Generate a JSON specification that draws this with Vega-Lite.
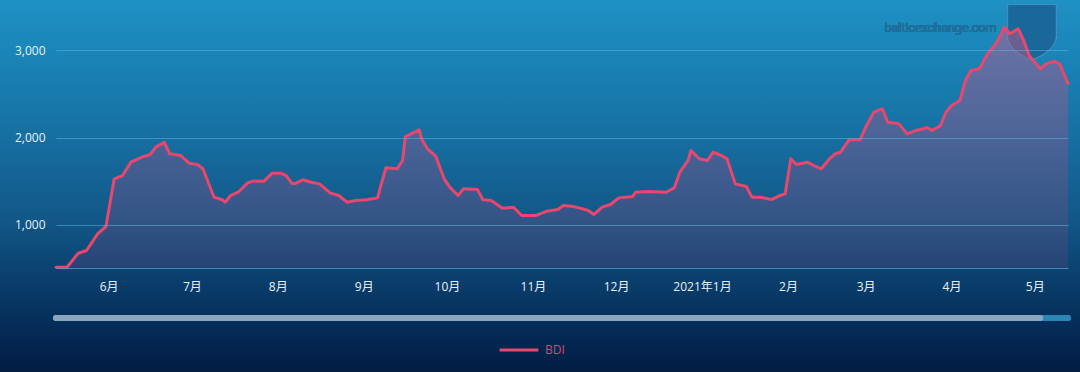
{
  "$schema": "https://vega.github.io/schema/vega-lite/v6.json",
  "width": 1012,
  "height": 261,
  "autosize": {"type": "none"},
  "padding": {"left": 56, "top": 7, "right": 12, "bottom": 104},
  "background": "#04214a",
  "config": {"view": {"stroke": null}},
  "data": {"values": [
    {"date": "2020-05-13", "bdi": 508}, {"date": "2020-05-17", "bdi": 510}, {"date": "2020-05-21", "bdi": 670},
    {"date": "2020-05-24", "bdi": 701}, {"date": "2020-05-28", "bdi": 893}, {"date": "2020-05-31", "bdi": 977},
    {"date": "2020-06-03", "bdi": 1525}, {"date": "2020-06-06", "bdi": 1563}, {"date": "2020-06-09", "bdi": 1716},
    {"date": "2020-06-13", "bdi": 1774}, {"date": "2020-06-16", "bdi": 1805}, {"date": "2020-06-18", "bdi": 1889},
    {"date": "2020-06-21", "bdi": 1946}, {"date": "2020-06-23", "bdi": 1813}, {"date": "2020-06-27", "bdi": 1793},
    {"date": "2020-06-30", "bdi": 1705}, {"date": "2020-07-03", "bdi": 1690}, {"date": "2020-07-05", "bdi": 1640},
    {"date": "2020-07-09", "bdi": 1314}, {"date": "2020-07-12", "bdi": 1284}, {"date": "2020-07-13", "bdi": 1256},
    {"date": "2020-07-15", "bdi": 1333}, {"date": "2020-07-18", "bdi": 1379}, {"date": "2020-07-21", "bdi": 1475},
    {"date": "2020-07-23", "bdi": 1498}, {"date": "2020-07-27", "bdi": 1498}, {"date": "2020-07-30", "bdi": 1590},
    {"date": "2020-08-02", "bdi": 1590}, {"date": "2020-08-04", "bdi": 1563}, {"date": "2020-08-06", "bdi": 1475},
    {"date": "2020-08-07", "bdi": 1467}, {"date": "2020-08-10", "bdi": 1514}, {"date": "2020-08-13", "bdi": 1486},
    {"date": "2020-08-16", "bdi": 1467}, {"date": "2020-08-20", "bdi": 1360}, {"date": "2020-08-23", "bdi": 1333},
    {"date": "2020-08-26", "bdi": 1256}, {"date": "2020-08-29", "bdi": 1276}, {"date": "2020-09-02", "bdi": 1284},
    {"date": "2020-09-06", "bdi": 1306}, {"date": "2020-09-07", "bdi": 1429}, {"date": "2020-09-09", "bdi": 1652},
    {"date": "2020-09-13", "bdi": 1640}, {"date": "2020-09-15", "bdi": 1736}, {"date": "2020-09-16", "bdi": 2011},
    {"date": "2020-09-21", "bdi": 2088}, {"date": "2020-09-22", "bdi": 1973}, {"date": "2020-09-24", "bdi": 1870},
    {"date": "2020-09-27", "bdi": 1782}, {"date": "2020-09-30", "bdi": 1525}, {"date": "2020-10-02", "bdi": 1429},
    {"date": "2020-10-05", "bdi": 1333}, {"date": "2020-10-07", "bdi": 1410}, {"date": "2020-10-12", "bdi": 1402},
    {"date": "2020-10-14", "bdi": 1284}, {"date": "2020-10-17", "bdi": 1276}, {"date": "2020-10-21", "bdi": 1188},
    {"date": "2020-10-25", "bdi": 1199}, {"date": "2020-10-28", "bdi": 1103}, {"date": "2020-11-02", "bdi": 1103},
    {"date": "2020-11-06", "bdi": 1153}, {"date": "2020-11-10", "bdi": 1172}, {"date": "2020-11-12", "bdi": 1218},
    {"date": "2020-11-15", "bdi": 1211}, {"date": "2020-11-19", "bdi": 1180}, {"date": "2020-11-21", "bdi": 1161},
    {"date": "2020-11-23", "bdi": 1115}, {"date": "2020-11-26", "bdi": 1199}, {"date": "2020-11-29", "bdi": 1230},
    {"date": "2020-12-02", "bdi": 1306}, {"date": "2020-12-07", "bdi": 1322}, {"date": "2020-12-08", "bdi": 1371},
    {"date": "2020-12-13", "bdi": 1379}, {"date": "2020-12-19", "bdi": 1371}, {"date": "2020-12-22", "bdi": 1421},
    {"date": "2020-12-24", "bdi": 1601}, {"date": "2020-12-27", "bdi": 1736}, {"date": "2020-12-28", "bdi": 1851},
    {"date": "2020-12-31", "bdi": 1755}, {"date": "2021-01-03", "bdi": 1736}, {"date": "2021-01-05", "bdi": 1831},
    {"date": "2021-01-08", "bdi": 1793}, {"date": "2021-01-10", "bdi": 1755}, {"date": "2021-01-13", "bdi": 1467},
    {"date": "2021-01-17", "bdi": 1437}, {"date": "2021-01-19", "bdi": 1314}, {"date": "2021-01-22", "bdi": 1314},
    {"date": "2021-01-26", "bdi": 1287}, {"date": "2021-01-29", "bdi": 1333}, {"date": "2021-01-31", "bdi": 1352},
    {"date": "2021-02-02", "bdi": 1755}, {"date": "2021-02-04", "bdi": 1690}, {"date": "2021-02-08", "bdi": 1716},
    {"date": "2021-02-11", "bdi": 1667}, {"date": "2021-02-13", "bdi": 1640}, {"date": "2021-02-16", "bdi": 1755},
    {"date": "2021-02-18", "bdi": 1813}, {"date": "2021-02-20", "bdi": 1831}, {"date": "2021-02-23", "bdi": 1973},
    {"date": "2021-02-27", "bdi": 1973}, {"date": "2021-03-01", "bdi": 2118}, {"date": "2021-03-04", "bdi": 2291},
    {"date": "2021-03-07", "bdi": 2330}, {"date": "2021-03-09", "bdi": 2176}, {"date": "2021-03-13", "bdi": 2157},
    {"date": "2021-03-16", "bdi": 2042}, {"date": "2021-03-19", "bdi": 2080}, {"date": "2021-03-22", "bdi": 2100},
    {"date": "2021-03-23", "bdi": 2118}, {"date": "2021-03-25", "bdi": 2080}, {"date": "2021-03-28", "bdi": 2138},
    {"date": "2021-03-30", "bdi": 2291}, {"date": "2021-04-01", "bdi": 2368}, {"date": "2021-04-04", "bdi": 2425},
    {"date": "2021-04-06", "bdi": 2655}, {"date": "2021-04-08", "bdi": 2770}, {"date": "2021-04-11", "bdi": 2789},
    {"date": "2021-04-14", "bdi": 2962}, {"date": "2021-04-17", "bdi": 3077}, {"date": "2021-04-19", "bdi": 3192},
    {"date": "2021-04-20", "bdi": 3268}, {"date": "2021-04-22", "bdi": 3192}, {"date": "2021-04-23", "bdi": 3211},
    {"date": "2021-04-25", "bdi": 3250}, {"date": "2021-04-27", "bdi": 3115}, {"date": "2021-04-29", "bdi": 2943},
    {"date": "2021-05-03", "bdi": 2789}, {"date": "2021-05-05", "bdi": 2847}, {"date": "2021-05-08", "bdi": 2877},
    {"date": "2021-05-10", "bdi": 2847}, {"date": "2021-05-13", "bdi": 2620}
  ]},
  "encoding": {
    "x": {
      "field": "date", "type": "temporal",
      "scale": {"type": "utc", "domain": [{"year": 2020, "month": 5, "date": 13, "utc": true}, {"year": 2021, "month": 5, "date": 13, "utc": true}]},
      "axis": {
        "title": null, "grid": false, "ticks": false, "zindex": 1,
        "domain": true, "domainColor": "#4d9cc8", "domainOpacity": 0.8, "domainWidth": 1,
        "tickCount": {"interval": "month", "step": 1},
        "labelExpr": "utcmonth(datum.value) == 0 ? utcFormat(datum.value, '%Y年%-m月') : utcFormat(datum.value, '%-m月')",
        "labelColor": "#e8f0f7", "labelFont": "Open Sans, Noto Sans CJK SC", "labelFontSize": 12,
        "labelPadding": 13, "labelOverlap": false, "labelFlush": false
      }
    },
    "y": {
      "field": "bdi", "type": "quantitative",
      "scale": {"domain": [500, 3500], "zero": false, "nice": false},
      "axis": {
        "title": null, "values": [1000, 2000, 3000], "format": ",.0f", "zindex": 1,
        "grid": true, "gridColor": "#5fb2de", "gridOpacity": 0.55, "gridWidth": 1,
        "ticks": false, "domain": false,
        "labelColor": "#e8f0f7", "labelFont": "Open Sans", "labelFontSize": 12, "labelPadding": 11
      }
    }
  },
  "layer": [
    {
      "mark": {"type": "rect", "fill": {"gradient": "linear", "x1": 0, "y1": 0, "x2": 0, "y2": 1, "stops": [
        {"offset": 0, "color": "#1e91c4"},
        {"offset": 0.15, "color": "#1a84b7"},
        {"offset": 0.37, "color": "#166fa1"},
        {"offset": 0.6, "color": "#115686"},
        {"offset": 0.75, "color": "#0a3f6d"},
        {"offset": 0.88, "color": "#052c58"},
        {"offset": 1, "color": "#021c43"}
      ]}},
      "encoding": {
        "x": {"datum": {"year": 2020, "month": 4, "date": 1, "utc": true}, "type": "temporal"},
        "x2": {"datum": {"year": 2021, "month": 7, "date": 1, "utc": true}},
        "y": {"datum": 3581, "type": "quantitative"},
        "y2": {"datum": -695}
      }
    },
    {
      "mark": {"type": "point", "filled": true, "shape": "M-0.9,-1 L0.9,-1 L0.9,0.15 C0.9,0.6 0.4,0.9 0,1.05 C-0.4,0.9 -0.9,0.6 -0.9,0.15 Z", "size": 2900, "color": "#1a6899", "opacity": 0.35, "stroke": "#5aa6d2", "strokeWidth": 1, "strokeOpacity": 0.5},
      "encoding": {
        "x": {"datum": {"year": 2021, "month": 4, "date": 30, "utc": true}, "type": "temporal"},
        "y": {"datum": 3218, "type": "quantitative"}
      }
    },
    {
      "mark": {"type": "text", "text": "balticexchange.com", "font": "Roboto", "fontSize": 12.5, "fontWeight": 400, "color": "#206e9c", "align": "center", "baseline": "middle"},
      "encoding": {
        "x": {"datum": {"year": 2021, "month": 3, "date": 28, "utc": true}, "type": "temporal"},
        "y": {"datum": 3264, "type": "quantitative"}
      }
    },
    {
      "mark": {"type": "area", "color": {"gradient": "linear", "x1": 0, "y1": 0, "x2": 0, "y2": 1, "stops": [
        {"offset": 0, "color": "rgba(214,84,134,0.45)"},
        {"offset": 1, "color": "rgba(140,70,130,0.2)"}
      ]}},
      "encoding": {"y2": {"datum": 500}}
    },
    {
      "mark": {"type": "line", "strokeWidth": 3, "strokeJoin": "round", "strokeCap": "round"},
      "encoding": {
        "color": {"datum": "BDI", "type": "nominal", "scale": {"range": ["#e9476d"]},
          "legend": {"title": null, "orient": "none", "legendX": 442, "legendY": 322, "padding": 0,
            "symbolType": "stroke", "symbolStrokeWidth": 3, "symbolSize": 1500, "labelOffset": 5,
            "labelColor": "#dc4474", "labelFont": "Open Sans", "labelFontSize": 12}}
      }
    },
    {
      "mark": {"type": "rule", "color": "#2b87b6", "strokeWidth": 5, "strokeCap": "round"},
      "encoding": {
        "x": {"datum": {"year": 2021, "month": 5, "date": 3, "utc": true}, "type": "temporal"},
        "x2": {"datum": {"year": 2021, "month": 5, "date": 13, "utc": true}},
        "y": {"datum": -75, "type": "quantitative"}
      }
    },
    {
      "mark": {"type": "rule", "color": "#8aa5c0", "strokeWidth": 5, "strokeCap": "round"},
      "encoding": {
        "x": {"datum": {"year": 2020, "month": 5, "date": 13, "utc": true}, "type": "temporal"},
        "x2": {"datum": {"year": 2021, "month": 5, "date": 3, "utc": true}},
        "y": {"datum": -75, "type": "quantitative"}
      }
    }
  ]
}
